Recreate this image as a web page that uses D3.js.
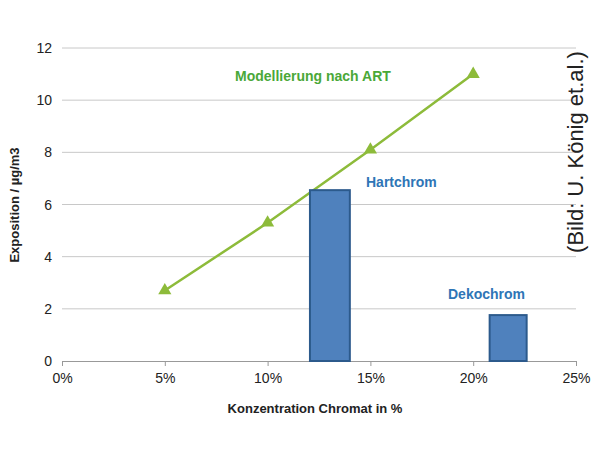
<!DOCTYPE html>
<html><head><meta charset="utf-8">
<script src="https://cdn.jsdelivr.net/npm/d3@7"></script>
<style>body{margin:0;background:#fff}text{font-family:"Liberation Sans",Arial,sans-serif}</style>
</head><body><svg id="c" width="600" height="456"></svg>
<script>
const lineX=[0.05,0.10,0.15,0.20];
const lineY=[2.7,5.3,8.1,11.0];
const barNames=["Hartchrom","Dekochrom"];
const barX0=[0.1206,0.208];
const barX1=[0.140,0.226];
const barY=[6.55,1.76];
const xTicks=[0,0.05,0.10,0.15,0.20,0.25];
const yTicks=[0,2,4,6,8,10,12];

const svg=d3.select("#c");
const x=d3.scaleLinear().domain([0,0.25]).range([62,576]);
const y=d3.scaleLinear().domain([0,12]).range([361,48]);

svg.append("g").selectAll("line").data(yTicks.slice(1)).join("line")
 .attr("x1",x(0)).attr("x2",x(0.25)).attr("y1",d=>y(d)).attr("y2",d=>y(d))
 .attr("stroke","#c8c8c8").attr("stroke-width",1);
svg.append("g").selectAll("text").data(yTicks).join("text")
 .attr("x",x(0)-10).attr("y",d=>y(d)+5).attr("text-anchor","end")
 .attr("font-size",14).attr("fill","#222").text(d=>d);

const ax=svg.append("g").attr("transform",`translate(0,${y(0)})`)
 .call(d3.axisBottom(x).tickValues(xTicks).tickFormat(d3.format(".0%")).tickSize(5).tickSizeOuter(0));
ax.select(".domain").attr("stroke","#999");
ax.selectAll(".tick line").attr("stroke","#999");
ax.selectAll("text").attr("font-size",14).attr("fill","#222").attr("dy","1em")
 .style("font-family","Liberation Sans, Arial, sans-serif");

const pts=lineX.map((d,i)=>[x(d),y(lineY[i])]);
svg.append("path").attr("d",d3.line()(pts)).attr("fill","none").attr("stroke","#8dbb3a").attr("stroke-width",2.5);
svg.append("g").selectAll("path").data(pts).join("path")
 .attr("transform",d=>`translate(${d[0]},${d[1]})`)
 .attr("d",d3.symbol(d3.symbolTriangle,75)()).attr("fill","#8dbb3a");

svg.append("g").selectAll("rect").data(barY).join("rect")
 .attr("x",(d,i)=>x(barX0[i])).attr("width",(d,i)=>x(barX1[i])-x(barX0[i]))
 .attr("y",d=>y(d)).attr("height",d=>y(0)-y(d))
 .attr("fill","#4f81bd").attr("stroke","#2c5a8c").attr("stroke-width",2);

svg.append("text").attr("x",235).attr("y",81).attr("font-size",14).attr("font-weight","bold").attr("fill","#4aa838").text("Modellierung nach ART");
svg.append("text").attr("x",366).attr("y",187).attr("font-size",14).attr("font-weight","bold").attr("fill","#2e75b6").text(barNames[0]);
svg.append("text").attr("x",448).attr("y",299).attr("font-size",14).attr("font-weight","bold").attr("fill","#2e75b6").text(barNames[1]);

svg.append("text").attr("transform","translate(19,205) rotate(-90)").attr("text-anchor","middle")
 .attr("font-size",13).attr("font-weight","bold").attr("fill","#222").text("Exposition / µg/m3");
svg.append("text").attr("x",315).attr("y",413).attr("text-anchor","middle")
 .attr("font-size",13).attr("font-weight","bold").attr("fill","#222").text("Konzentration Chromat in %");
svg.append("text").attr("transform","translate(583,152) rotate(-90)").attr("text-anchor","middle")
 .attr("font-size",22).attr("fill","#222").text("(Bild: U. König et.al.)");
</script></body></html>
